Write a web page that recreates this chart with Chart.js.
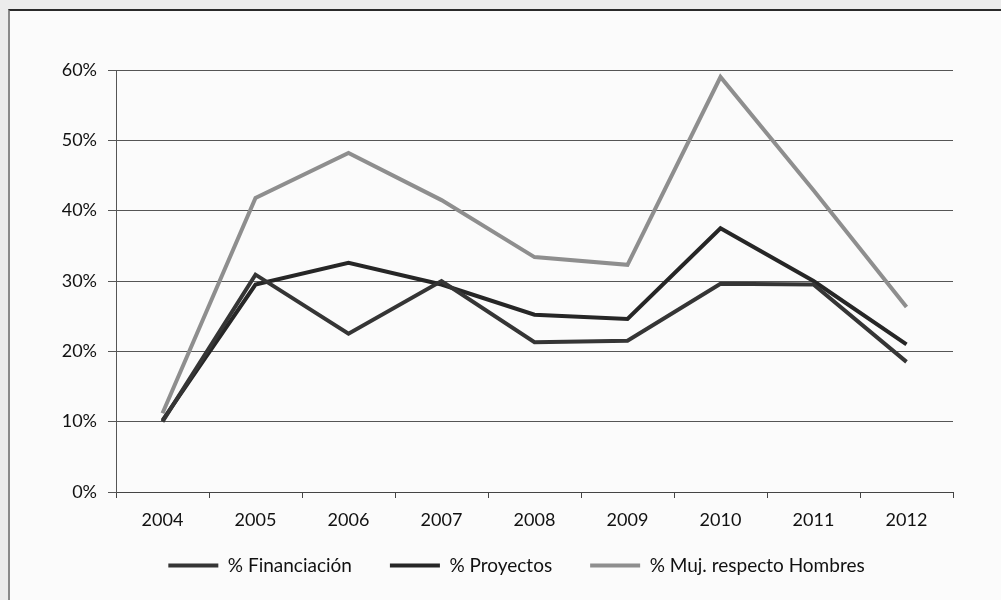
<!DOCTYPE html>
<html lang="es">
  <head>
    <meta charset="UTF-8" />
    <title>Financiación y proyectos</title>
    <script src="https://cdn.jsdelivr.net/npm/chart.js"></script>
    <style>
      html, body { margin: 0; padding: 0; background: #ececec; }
      .frame {
        position: absolute; left: 8px; top: 9px; width: 1100px; height: 700px;
        border-top: 2px solid #2a2a2a; border-left: 2px solid #8a8a8a;
        background: #fbfbfb;
      }
      .wrap { position: absolute; left: 0; top: 0; width: 1001px; height: 600px; }
    </style>
  </head>
  <body>
    <div class="frame"></div>
    <div class="wrap"><canvas id="chart"></canvas></div>

    <script>
      const years = ["2004", "2005", "2006", "2007", "2008", "2009", "2010", "2011", "2012"];
      const financiacion = [10, 30.9, 22.5, 30, 21.3, 21.5, 29.6, 29.5, 18.5];
      const proyectos = [10.2, 29.5, 32.6, 29.5, 25.2, 24.6, 37.5, 30, 21];
      const mujHombres = [11.2, 41.8, 48.2, 41.5, 33.4, 32.3, 59, 42.9, 26.3];

      const family = "Lato, 'Open Sans', sans-serif";
      const tickFont = { family: family, size: 18 };

      // legend in the original sits a bit right of centre and closer to the axis
      const legendShift = {
        id: "legendShift",
        afterLayout(chart) {
          const lg = chart.legend;
          lg.left += 40;
          lg.right += 40;
          lg.top -= 14;
          lg.bottom -= 14;
        },
      };

      new Chart(document.getElementById("chart"), {
        type: "line",
        data: {
          labels: years,
          datasets: [
            { label: "% Financiación", data: financiacion, borderColor: "#353535", borderWidth: 4 },
            { label: "% Proyectos", data: proyectos, borderColor: "#262626", borderWidth: 4 },
            { label: "% Muj. respecto Hombres", data: mujHombres, borderColor: "#8e8e8e", borderWidth: 4 },
          ],
        },
        plugins: [legendShift],
        options: {
          responsive: true,
          maintainAspectRatio: false,
          animation: false,
          elements: { point: { radius: 0 }, line: { tension: 0, borderJoinStyle: "miter" } },
          layout: { padding: { top: 70, right: 48, bottom: 1, left: 0 } },
          plugins: {
            tooltip: { enabled: false },
            legend: {
              position: "bottom",
              labels: {
                usePointStyle: true,
                pointStyle: "line",
                pointStyleWidth: 50,
                color: "#111",
                padding: 38,
                font: { family: family, size: 19 },
              },
            },
          },
          scales: {
            x: {
              offset: true,
              afterFit: (s) => { s.height = 40; },
              grid: { offset: true, drawOnChartArea: false, drawTicks: true, tickLength: 6, color: "#444" },
              border: { display: true, color: "#444", width: 1 },
              ticks: { color: "#111", font: tickFont, padding: 11 },
            },
            y: {
              min: 0,
              max: 60,
              afterFit: (s) => { s.width = 116; },
              grid: { color: "#555", lineWidth: 1, tickLength: 8 },
              border: { display: true, color: "#555" },
              ticks: {
                stepSize: 10,
                color: "#111",
                font: tickFont,
                padding: 11,
                callback: (v) => v + "%",
              },
            },
          },
        },
      });
    </script>
  </body>
</html>
